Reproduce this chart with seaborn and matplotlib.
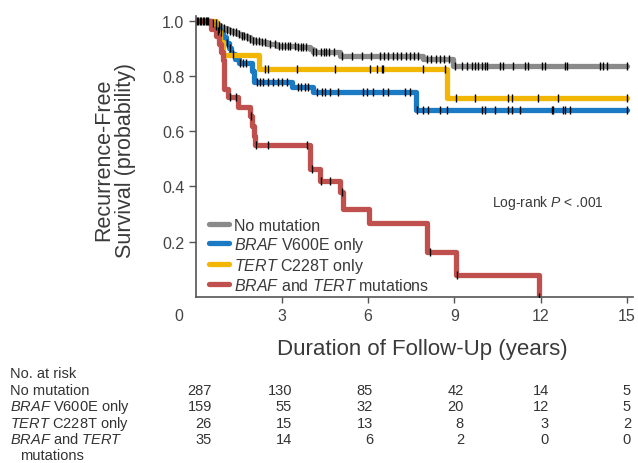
import numpy as np
import pandas as pd
import matplotlib
matplotlib.use("Agg")
import matplotlib.pyplot as plt
import matplotlib.transforms as mtransforms
from matplotlib.lines import Line2D
import seaborn as sns

# ---------------- data ----------------
groups = ["No mutation", "BRAF V600E only", "TERT C228T only", "BRAF and TERT mutations"]
legend_labels = ["No mutation", r"$\mathit{BRAF}$ V600E only",
                 r"$\mathit{TERT}$ C228T only", r"$\mathit{BRAF}$ and $\mathit{TERT}$ mutations"]
colors = ["#8a8a8a", "#1a7bc4", "#f2b705", "#c0504d"]
end_time = [15.0, 15.0, 15.0, 11.94]

gray_t = [0.5, 0.6, 0.74, 0.85, 0.95, 1.08, 1.2, 1.3, 1.43, 1.6, 1.78, 1.9, 2.0, 2.24,
          2.5, 2.82, 3.52, 3.98, 4.1, 5.02, 7.9, 8.95]
gray_s = [0.995, 0.99, 0.985, 0.978, 0.972, 0.967, 0.962, 0.957, 0.951, 0.945, 0.939,
          0.933, 0.927, 0.921, 0.915, 0.909, 0.903, 0.897, 0.885, 0.873, 0.86, 0.835]

blue_t = [0.58, 0.65, 0.75, 0.85, 0.95, 1.05, 1.15, 1.25, 1.37, 1.5, 1.97, 2.03, 3.37, 4.07, 7.67]
blue_s = [0.99, 0.98, 0.97, 0.958, 0.94, 0.92, 0.9, 0.88, 0.862, 0.845, 0.818, 0.778, 0.76, 0.742, 0.675]

yellow_t = [0.7, 0.85, 0.97, 2.22, 8.75]
yellow_s = [0.962, 0.923, 0.874, 0.824, 0.72]

red_t = [0.55, 0.7, 0.82, 0.9, 0.95, 0.98, 1.0, 1.13, 1.48, 1.9, 1.95, 2.03, 2.07, 3.98,
         4.33, 5.02, 5.13, 6.03, 8.04, 9.05, 11.94]
red_s = [0.971, 0.943, 0.914, 0.886, 0.857, 0.8, 0.752, 0.722, 0.686, 0.656, 0.62, 0.583,
         0.55, 0.463, 0.42, 0.378, 0.318, 0.268, 0.162, 0.08, 0.0]

gray_cens = [0.05, 0.1, 0.15, 0.2, 0.25, 0.3, 0.35, 0.4, 0.45, 0.6, 0.7, 0.8, 0.9, 1.0, 1.1,
             1.2, 1.3, 1.4, 1.5, 1.6, 1.7, 1.8, 1.9, 2.0, 2.1, 2.2, 2.3, 2.4, 2.6, 2.75, 2.9,
             3.0, 3.1, 3.2, 3.3, 3.45, 3.55, 3.65, 3.75, 3.85, 4.1, 4.2, 4.35, 4.45, 4.55,
             4.65, 4.8, 5.1, 5.45, 5.8, 6.1, 6.4, 6.55, 6.7, 6.85, 7.0, 7.15, 7.3, 7.45, 7.6,
             7.75, 8.05, 8.2, 8.35, 8.5, 8.65, 8.8, 9.02, 9.25, 9.43, 9.6, 9.73, 9.82, 9.95,
             10.06, 10.12, 10.58, 10.69, 11.04, 11.45, 11.56, 12.03, 12.15, 12.84, 12.9,
             14.06, 14.17, 14.29, 14.99]
blue_cens = [0.7, 0.8, 0.9, 1.1, 1.2, 1.3, 1.55, 1.65, 1.75, 2.13, 2.24, 2.36, 2.53, 2.7,
             2.88, 3.0, 3.17, 3.57, 3.68, 3.8, 3.91, 4.21, 4.39, 4.5, 4.68, 4.96, 5.83, 5.95,
             6.18, 6.53, 6.7, 7.28, 7.46, 7.69, 7.92, 8.09, 8.5, 8.73, 9.95, 10.06, 10.41,
             10.87, 10.99, 11.28, 12.38, 12.44, 12.78, 12.84, 13.02, 15.0]
yellow_cens = [0.78, 2.42, 2.53, 3.52, 4.85, 6.07, 6.3, 6.47, 6.53, 7.92, 8.67, 9.05, 9.72,
               10.87, 10.99, 11.92, 12.61, 15.0]
red_cens = [1.2, 1.42, 1.92, 2.1, 2.53, 3.86, 4.05, 4.37, 4.68, 5.08, 8.15, 9.08, 11.95]

risk_rows = ["No mutation", r"$\mathit{BRAF}$ V600E only", r"$\mathit{TERT}$ C228T only",
             r"$\mathit{BRAF}$ and $\mathit{TERT}$"]
risk_no_mut = [287, 130, 85, 42, 14, 5]
risk_braf = [159, 55, 32, 20, 12, 5]
risk_tert = [26, 15, 13, 8, 3, 2]
risk_both = [35, 14, 6, 2, 0, 0]
x_ticks = [3, 6, 9, 12, 15]
y_ticks = [0.2, 0.4, 0.6, 0.8, 1.0]

# ---------------- build tables ----------------
step_t = [gray_t, blue_t, yellow_t, red_t]
step_s = [gray_s, blue_s, yellow_s, red_s]
cens = [gray_cens, blue_cens, yellow_cens, red_cens]

rows = []
crow = []
for g, ts, ss, te, cs in zip(groups, step_t, step_s, end_time, cens):
    tt = np.array([0.0] + ts + ([te] if te > ts[-1] else []))
    sv = np.array([1.0] + ss + ([ss[-1]] if te > ts[-1] else []))
    for a, b in zip(tt, sv):
        rows.append((g, a, b))
    for c in cs:
        idx = np.searchsorted(tt, c, side="right") - 1
        crow.append((g, c, sv[idx]))
df = pd.DataFrame(rows, columns=["group", "time", "surv"])
cdf = pd.DataFrame(crow, columns=["group", "time", "surv"])

# ---------------- plotting ----------------
sns.set_style("white")
plt.rcParams["font.family"] = ["Liberation Sans", "DejaVu Sans"]
plt.rcParams["mathtext.fontset"] = "custom"
plt.rcParams["mathtext.rm"] = "Liberation Sans"
plt.rcParams["mathtext.it"] = "Liberation Sans:italic"

W, H = 638, 464
fig = plt.figure(figsize=(W / 100, H / 100), dpi=100)
x0, y_bottom = 195.5, 298.0
px_per_year = 28.77
px_per_unit = 276.5
xmax, ymax = 15.2, 1.015
ax = fig.add_axes([x0 / W, 1 - y_bottom / H, px_per_year * xmax / W, px_per_unit * ymax / H])

pal = dict(zip(groups, colors))
sns.lineplot(data=df, x="time", y="surv", hue="group", hue_order=groups, palette=pal,
             estimator=None, sort=False, drawstyle="steps-post", linewidth=3.8,
             legend=False, ax=ax)
sns.scatterplot(data=cdf, x="time", y="surv", marker="|", color="black", s=40,
                linewidth=1.0, legend=False, ax=ax, zorder=5)

ax.set_xlim(0, xmax)
ax.set_ylim(0, ymax)
ax.set_xticks(x_ticks)
ax.set_yticks(y_ticks)
ax.set_yticklabels([f"{v:.1f}" for v in y_ticks])
ax.set_xlabel("")
ax.set_ylabel("")
for side in ["top", "right"]:
    ax.spines[side].set_visible(False)
for side in ["left", "bottom"]:
    ax.spines[side].set_color("#555555")
    ax.spines[side].set_linewidth(1.2)
ax.tick_params(axis="y", direction="out", length=5, width=1, color="#555555",
               labelsize=11.5, labelcolor="#444444", pad=3, left=True)
ax.tick_params(axis="x", direction="out", length=4, width=1, color="#555555",
               labelsize=11.5, labelcolor="#444444", pad=4, bottom=True)

trans = mtransforms.blended_transform_factory(ax.transData, ax.transAxes)
ax.text(-0.57, -0.040, "0", transform=trans, ha="center", va="top",
        fontsize=11.5, color="#444444")

handles = [Line2D([0], [0], color=c, lw=3.8) for c in colors]
leg = ax.legend(handles, legend_labels, loc="lower left", bbox_to_anchor=(0.03, 0.015),
                frameon=False, fontsize=11.5, handlelength=1.3, handletextpad=0.3,
                labelspacing=0.12, borderpad=0, borderaxespad=0)
for t in leg.get_texts():
    t.set_color("#3a3a3a")

ax.text((491.7 - x0) / (px_per_year * xmax), (y_bottom - 203) / (px_per_unit * ymax),
        r"Log-rank $\mathit{P}$ < .001", transform=ax.transAxes, ha="left", va="center",
        fontsize=10, color="#3a3a3a")

fig.text(115 / W, 1 - 160 / H, "Recurrence-Free\nSurvival (probability)", rotation=90,
         ha="center", va="center", multialignment="center", fontsize=15.5,
         color="#3a3a3a", linespacing=1.05)
fig.text(422 / W, 1 - 350 / H, "Duration of Follow-Up (years)", ha="center", va="center",
         fontsize=16, color="#3a3a3a")

# risk table
tc = "#333333"
fs = 10.5
fig.text(10 / W, 1 - 374 / H, "No. at risk", ha="left", va="center", fontsize=fs, color=tc)
row_y = [391, 407.5, 424, 440]
col_right = [212, 292, 373, 464, 549, 631]
for lab, vals, yy in zip(risk_rows, [risk_no_mut, risk_braf, risk_tert, risk_both], row_y):
    fig.text(10 / W, 1 - yy / H, lab, ha="left", va="center", fontsize=fs, color=tc)
    for v, xr in zip(vals, col_right):
        fig.text(xr / W, 1 - yy / H, str(v), ha="right", va="center", fontsize=fs, color=tc)
fig.text(20 / W, 1 - 456 / H, "mutations", ha="left", va="center", fontsize=fs, color=tc)

fig.savefig("out.png", dpi=100)
